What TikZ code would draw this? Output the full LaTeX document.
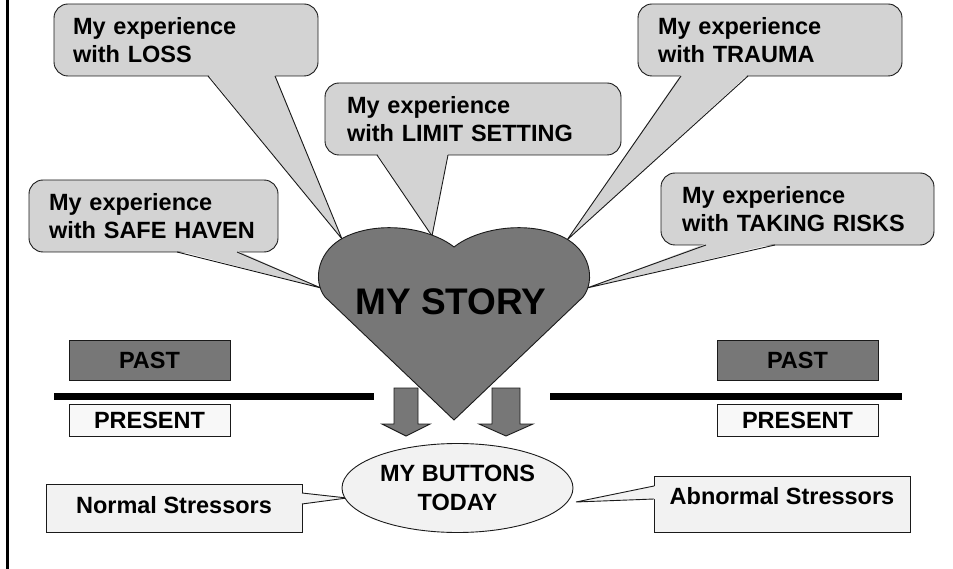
\documentclass[tikz,border=0pt]{standalone}
\usepackage{fontspec}
\setmainfont{Liberation Sans}
\usetikzlibrary{shapes.geometric}
\definecolor{heartgray}{HTML}{777777}
\definecolor{callgray}{HTML}{D3D3D3}
\definecolor{palegray}{HTML}{F2F2F2}
\definecolor{presentfill}{HTML}{F8F8F8}
\definecolor{edgegray}{HTML}{1A1A1A}
\tikzset{
  lbl/.style={font=\fontsize{23.5}{28.5}\selectfont\bfseries},
  edge/.style={draw=edgegray, line width=0.9pt},
  callbox/.style={lbl, edge, fill=callgray, rounded corners=14pt, minimum height=72pt, align=left, inner ysep=0pt},
  tailfill/.style={fill=callgray},
  tailedge/.style={edge, line join=miter},
  timebox/.style={lbl, edge, minimum width=161pt, inner sep=0pt},
  stressbox/.style={lbl, edge, fill=palegray, minimum width=256pt, inner sep=0pt},
  blockarrow/.style={edge, fill=heartgray, line join=miter},
  divider/.style={line width=7pt, draw=black}
}
\begin{document}
\begin{tikzpicture}[x=1pt, y=-1pt]
\useasboundingbox (0,0) rectangle (953,569);
% left border
\draw[line width=2.5pt] (7.5,0) -- (7.5,569);

% heart contact points
\coordinate (hLoss) at (342,239);
\coordinate (hLimit) at (432,236);
\coordinate (hSafe) at (321,288);
\coordinate (hTrauma) at (567,240);
\coordinate (hRisks) at (587,288);

% callouts
\node[callbox, inner xsep=19pt, text width=226pt] (loss) at (186,40) {My experience\\with LOSS};
\coordinate (lossA) at (208,76); \coordinate (lossB) at (275,76);
\fill[tailfill] ([yshift=1.5pt]lossA) -- (hLoss) -- ([yshift=1.5pt]lossB) -- cycle;
\draw[tailedge] (lossA) -- (hLoss) -- (lossB);

\node[callbox, inner xsep=22pt, text width=252pt] (limit) at (473,119) {My experience\\with LIMIT SETTING};
\coordinate (limitA) at (377,155); \coordinate (limitB) at (448,155);
\fill[tailfill] ([yshift=1.5pt]limitA) -- (hLimit) -- ([yshift=1.5pt]limitB) -- cycle;
\draw[tailedge] (limitA) -- (hLimit) -- (limitB);

\node[callbox, inner xsep=20pt, text width=209pt] (safe) at (153.5,216) {My experience\\with SAFE HAVEN};
\coordinate (safeA) at (177,252); \coordinate (safeB) at (237,252);
\fill[tailfill] ([yshift=1.5pt]safeA) -- (hSafe) -- ([yshift=1.5pt]safeB) -- cycle;
\draw[tailedge] (safeA) -- (hSafe) -- (safeB);

\node[callbox, inner xsep=20pt, text width=224pt] (trauma) at (770,40) {My experience\\with TRAUMA};
\coordinate (traumaA) at (681,76); \coordinate (traumaB) at (748,76);
\fill[tailfill] ([yshift=1.5pt]traumaA) -- (hTrauma) -- ([yshift=1.5pt]traumaB) -- cycle;
\draw[tailedge] (traumaA) -- (hTrauma) -- (traumaB);

\node[callbox, inner xsep=21pt, text width=231pt] (risks) at (797.5,209) {My experience\\with TAKING RISKS};
\coordinate (risksA) at (706,245); \coordinate (risksB) at (775,245);
\fill[tailfill] ([yshift=1.5pt]risksA) -- (hRisks) -- ([yshift=1.5pt]risksB) -- cycle;
\draw[tailedge] (risksA) -- (hRisks) -- (risksB);

% heart
\draw[edge, fill=heartgray] (454,420) -- (325,297)
  .. controls (312,280) and (318,250) .. (345,237)
  .. controls (380,220) and (430,228) .. (454,247)
  .. controls (478,228) and (528,220) .. (563,237)
  .. controls (590,250) and (596,280) .. (583,297) -- cycle;
\node[font=\fontsize{37}{40}\selectfont\bfseries, inner sep=0pt] (story) at (451,301.5) {MY STORY};

% past / present divider
\draw[divider] (54,396.5) -- (374,396.5);
\draw[divider] (550,396.5) -- (902,396.5);
\node[timebox, fill=heartgray, minimum height=40pt] (pastL) at (149.5,360) {PAST};
\node[timebox, fill=presentfill, minimum height=32pt] (presL) at (149.5,420) {PRESENT};
\node[timebox, fill=heartgray, minimum height=40pt] (pastR) at (797.5,360) {PAST};
\node[timebox, fill=presentfill, minimum height=32pt] (presR) at (797.5,420) {PRESENT};

% block arrows
\draw[blockarrow] (394,388) -- (418,388) -- (418,424) -- (430,424) -- (406,436) -- (382,424) -- (394,424) -- cycle;
\draw[blockarrow] (492,388) -- (520,388) -- (520,424) -- (533,424) -- (506,436) -- (479,424) -- (492,424) -- cycle;

% stressors
\node[stressbox, minimum height=48pt, text depth=6.6pt] (normal) at (174,508) {Normal Stressors};
\coordinate (normA) at (302,493); \coordinate (normB) at (302,504); \coordinate (normTip) at (347,498);
\fill[fill=palegray] ([xshift=-1.5pt]normA) -- (normTip) -- ([xshift=-1.5pt]normB) -- cycle;
\draw[tailedge] (normA) -- (normTip) -- (normB);

\node[stressbox, minimum height=56pt, text depth=15.2pt] (abnormal) at (782,504) {Abnormal Stressors};
\coordinate (abA) at (654,486); \coordinate (abB) at (654,499); \coordinate (abTip) at (576,502);
\fill[fill=palegray] ([xshift=1.5pt]abA) -- (abTip) -- ([xshift=1.5pt]abB) -- cycle;
\draw[tailedge] (abA) -- (abTip) -- (abB);

\node[ellipse, edge, fill=palegray, minimum width=231pt, minimum height=89pt, inner sep=0pt, lbl, align=center] (buttons) at (457.5,488) {MY BUTTONS\\TODAY};
\end{tikzpicture}
\end{document}
